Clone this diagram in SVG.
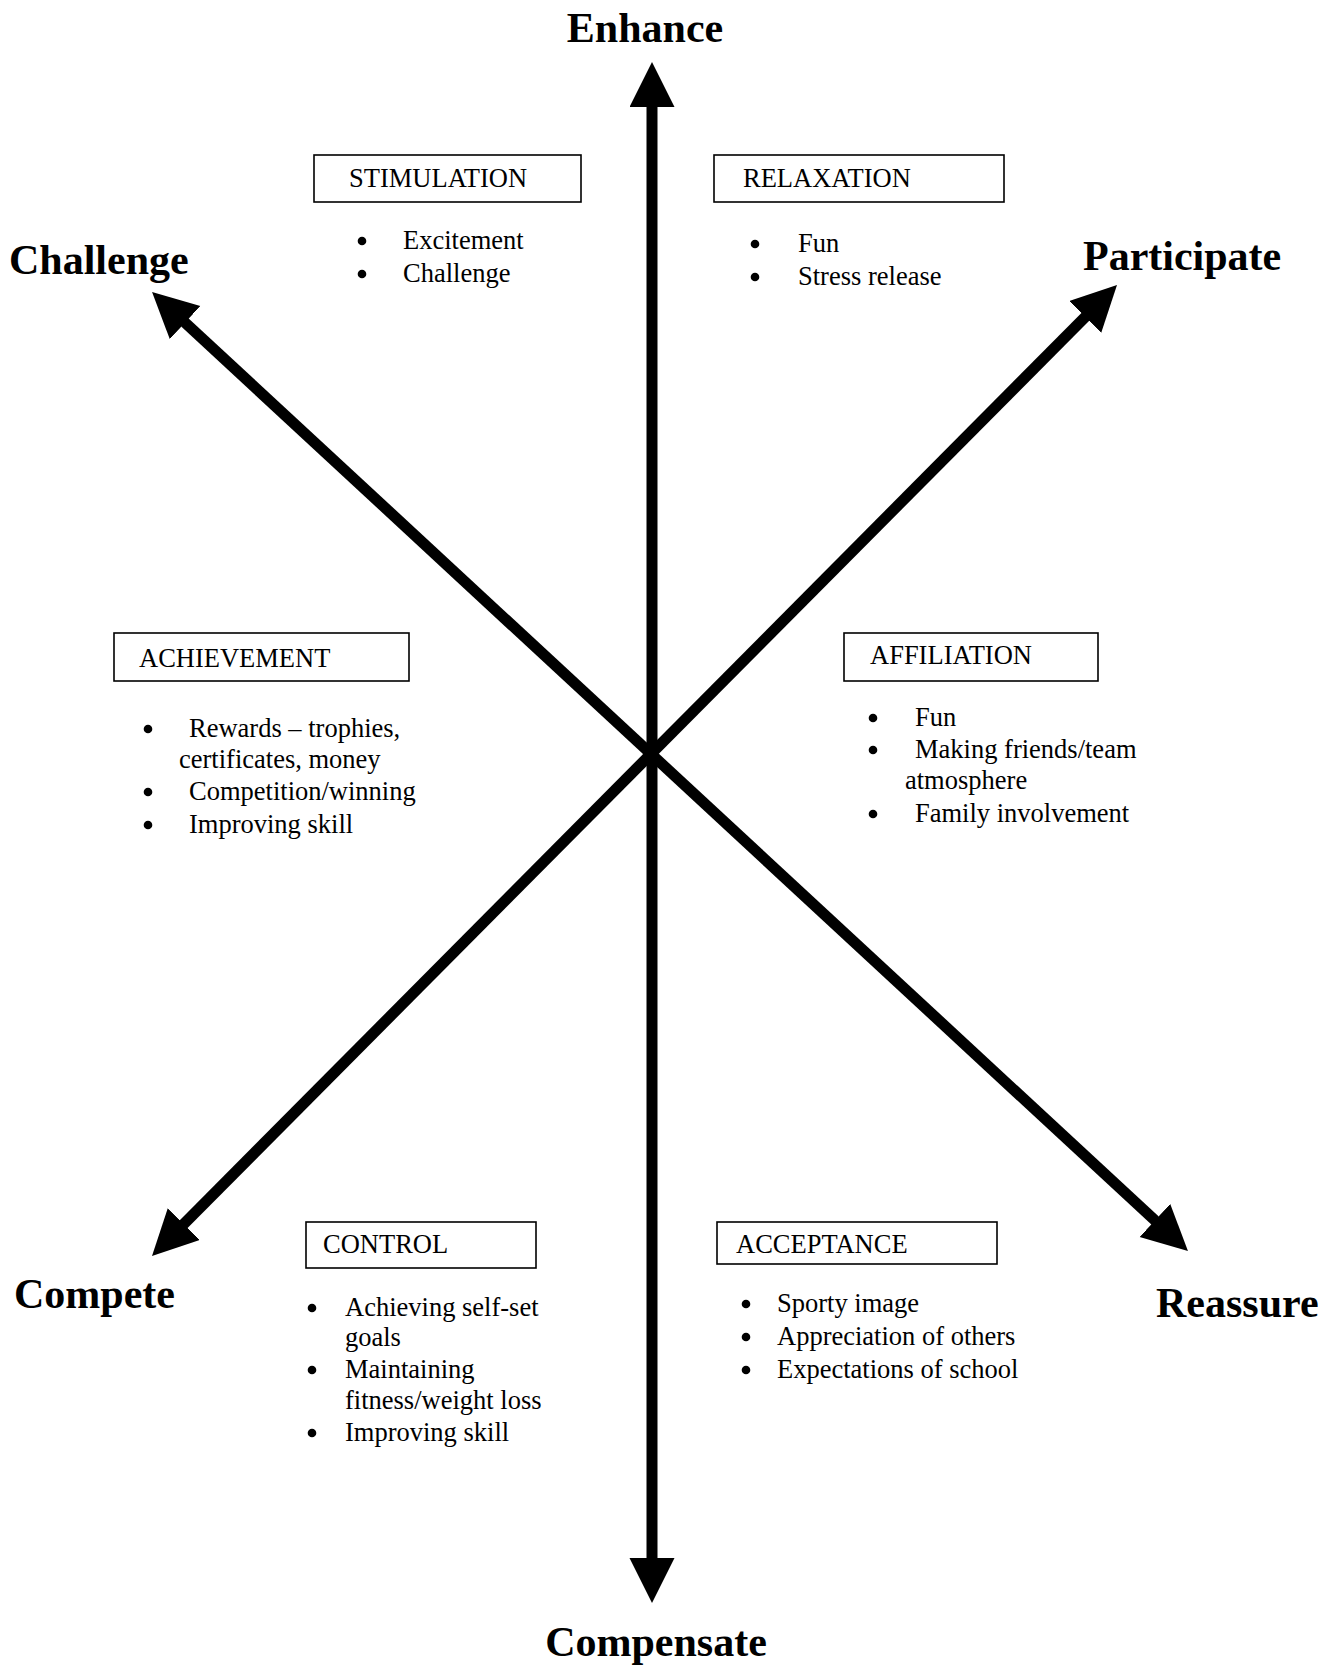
<svg xmlns="http://www.w3.org/2000/svg" width="1340" height="1668" viewBox="0 0 1340 1668">
<style>
.t{font-family:"Liberation Serif","Times New Roman",serif;font-size:26.5px;fill:#000}
.h{font-family:"Liberation Serif","Times New Roman",serif;font-size:42px;font-weight:bold;fill:#000}
.box{fill:#fff;stroke:#000;stroke-width:1.6}
.b{fill:#000}
.ax{stroke:#000;stroke-width:11;fill:none;marker-start:url(#ah);marker-end:url(#ah)}
</style>
<defs>
<marker id="ah" markerUnits="userSpaceOnUse" markerWidth="46" markerHeight="46" refX="5" refY="22.5" orient="auto-start-reverse" viewBox="0 0 46 46">
<path d="M0,0 L45,22.5 L0,45 z" fill="#000"/>
</marker>
</defs>
<rect width="1340" height="1668" fill="#fff"/>
<g id="connectors">
<line class="ax" x1="652" y1="102" x2="652" y2="1563"/>
<line class="ax" x1="181.4" y1="319.2" x2="1158.6" y2="1223.8"/>
<line class="ax" x1="1088.8" y1="313.4" x2="180.2" y2="1227.6"/>
</g>
<g id="axis-labels">
<text id="enhance" class="h" x="645" y="42" text-anchor="middle">Enhance</text>
<text id="challenge" class="h" x="9" y="274">Challenge</text>
<text id="participate" class="h" x="1083" y="270">Participate</text>
<text id="compete" class="h" x="14" y="1308">Compete</text>
<text id="reassure" class="h" x="1156" y="1317">Reassure</text>
<text id="compensate" class="h" x="656" y="1656" text-anchor="middle">Compensate</text>
</g>
<g id="stimulation">
<rect class="box" x="314" y="155" width="267" height="47"/>
<text class="t" x="349" y="187">STIMULATION</text>
<circle class="b" cx="362" cy="241" r="4.3"/><text class="t" x="403" y="249">Excitement</text>
<circle class="b" cx="362" cy="274" r="4.3"/><text class="t" x="403" y="282">Challenge</text>
</g>
<g id="relaxation">
<rect class="box" x="714" y="155" width="290" height="47"/>
<text class="t" x="743" y="187">RELAXATION</text>
<circle class="b" cx="755" cy="244" r="4.3"/><text class="t" x="798" y="252">Fun</text>
<circle class="b" cx="755" cy="277" r="4.3"/><text class="t" x="798" y="285">Stress release</text>
</g>
<g id="achievement">
<rect class="box" x="114" y="633" width="295" height="48"/>
<text class="t" x="139" y="667">ACHIEVEMENT</text>
<circle class="b" cx="148" cy="729" r="4.3"/><text class="t" x="189" y="737">Rewards – trophies,</text>
<text class="t" x="179" y="768">certificates, money</text>
<circle class="b" cx="148" cy="792" r="4.3"/><text class="t" x="189" y="800">Competition/winning</text>
<circle class="b" cx="148" cy="825" r="4.3"/><text class="t" x="189" y="833">Improving skill</text>
</g>
<g id="affiliation">
<rect class="box" x="844" y="633" width="254" height="48"/>
<text class="t" x="870" y="664">AFFILIATION</text>
<circle class="b" cx="873" cy="718" r="4.3"/><text class="t" x="915" y="726">Fun</text>
<circle class="b" cx="873" cy="750" r="4.3"/><text class="t" x="915" y="758">Making friends/team</text>
<text class="t" x="905" y="789">atmosphere</text>
<circle class="b" cx="873" cy="814" r="4.3"/><text class="t" x="915" y="822">Family involvement</text>
</g>
<g id="control">
<rect class="box" x="306" y="1222" width="230" height="46"/>
<text class="t" x="323" y="1253">CONTROL</text>
<circle class="b" cx="312" cy="1308" r="4.3"/><text class="t" x="345" y="1316">Achieving self-set</text>
<text class="t" x="345" y="1346">goals</text>
<circle class="b" cx="312" cy="1370" r="4.3"/><text class="t" x="345" y="1378">Maintaining</text>
<text class="t" x="345" y="1409">fitness/weight loss</text>
<circle class="b" cx="312" cy="1433" r="4.3"/><text class="t" x="345" y="1441">Improving skill</text>
</g>
<g id="acceptance">
<rect class="box" x="717" y="1222" width="280" height="42"/>
<text class="t" x="736" y="1253">ACCEPTANCE</text>
<circle class="b" cx="746" cy="1304" r="4.3"/><text class="t" x="777" y="1312">Sporty image</text>
<circle class="b" cx="746" cy="1337" r="4.3"/><text class="t" x="777" y="1345">Appreciation of others</text>
<circle class="b" cx="746" cy="1370" r="4.3"/><text class="t" x="777" y="1378">Expectations of school</text>
</g>
</svg>
